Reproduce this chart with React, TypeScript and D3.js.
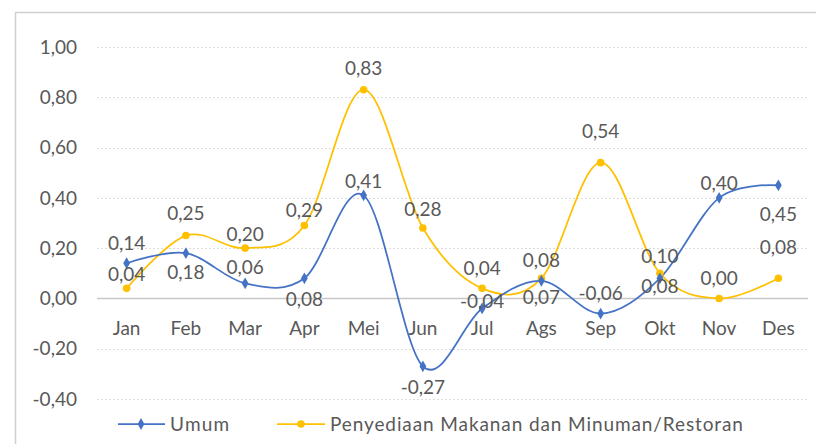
import React from 'react';
import * as d3 from 'd3';

const months = ['Jan', 'Feb', 'Mar', 'Apr', 'Mei', 'Jun', 'Jul', 'Ags', 'Sep', 'Okt', 'Nov', 'Des'];
const umum = [0.14, 0.18, 0.06, 0.08, 0.41, -0.27, -0.04, 0.07, -0.06, 0.08, 0.40, 0.45];
const restoran = [0.04, 0.25, 0.20, 0.29, 0.83, 0.28, 0.04, 0.08, 0.54, 0.10, 0.00, 0.08];
const yTicks = [-0.4, -0.2, 0, 0.2, 0.4, 0.6, 0.8, 1.0];
const seriesNames = ['Umum', 'Penyediaan Makanan dan Minuman/Restoran'];

// label offsets (vertical, from the marker) as Excel placed them
const umumLabelDy = [-20, 19, -16, 21, -14, 21, -7, 17, -20, 8, -15, 29];
const restoranLabelDy = [-14, -22, -14, -15, -21, -19, -20, -18, -31, -17, -20, -31];

const W = 816;
const H = 444;
const BLUE = '#4472C4';
const GOLD = '#FFC000';
const TEXT = '#595959';
const FONT = 'Lato, sans-serif';

const locale = d3.formatLocale({ decimal: ',', thousands: '.', grouping: [3], currency: ['', ''] });
const fmt = locale.format('.2f');

export default function App() {
  const x = d3.scaleBand<string>().domain(months).range([97, 808]);
  const y = d3.scaleLinear().domain([-0.4, 1.0]).range([399, 47]);
  const cx = (m: string) => (x(m) as number) + x.bandwidth() / 2;

  const line = d3.line<number>()
    .x((d, i) => cx(months[i]))
    .y(d => y(d))
    .curve(d3.curveCardinal.tension(0));

  const diamond = d3.symbol().type(d3.symbolDiamond).size(40)();

  const fmtLabel = (v: number) => fmt(v).replace('−', '-');

  return (
    <svg width={W} height={H} style={{ position: 'absolute', left: 0, top: 0 }} fontFamily={FONT}>
      <rect x={0} y={0} width={W} height={H} fill="#fff" />
      <path d={`M15.5,${H} V12.5 H${W}`} fill="none" stroke="#d0d0d0" strokeWidth={1.5} />

      {yTicks.map(t => (
        <g key={t}>
          <line
            x1={97} x2={808} y1={Math.round(y(t)) + 0.5} y2={Math.round(y(t)) + 0.5}
            stroke={t === 0 ? '#c8c8c8' : '#dcdcdc'}
            strokeWidth={t === 0 ? 1.5 : 1}
            strokeDasharray={t === 0 ? undefined : '2,2'}
          />
          <text x={77} y={y(t)} dy="0.35em" textAnchor="end" fontSize={19} fill={TEXT}>
            {fmtLabel(t)}
          </text>
        </g>
      ))}

      {months.map(m => (
        <text key={m} x={cx(m)} y={328} dy="0.35em" textAnchor="middle" fontSize={19} fill={TEXT}>
          {m}
        </text>
      ))}

      <path d={line(restoran) as string} fill="none" stroke={GOLD} strokeWidth={1.75} />
      <path d={line(umum) as string} fill="none" stroke={BLUE} strokeWidth={1.75} />

      {restoran.map((v, i) => (
        <circle key={'r' + i} cx={cx(months[i])} cy={y(v)} r={3.8} fill={GOLD} />
      ))}
      {umum.map((v, i) => (
        <path key={'u' + i} d={diamond as string} transform={`translate(${cx(months[i])},${y(v)})`} fill={BLUE} />
      ))}

      {umum.map((v, i) => (
        <text key={'ul' + i} x={cx(months[i])} y={y(v) + umumLabelDy[i]} dy="0.35em"
          textAnchor="middle" fontSize={19} fill={TEXT}>
          {fmtLabel(v)}
        </text>
      ))}
      {restoran.map((v, i) => (
        <text key={'rl' + i} x={cx(months[i])} y={y(v) + restoranLabelDy[i]} dy="0.35em"
          textAnchor="middle" fontSize={19} fill={TEXT}>
          {fmtLabel(v)}
        </text>
      ))}

      <g transform="translate(0,424)">
        <line x1={118} x2={165} y1={0} y2={0} stroke={BLUE} strokeWidth={1.75} />
        <path d={diamond as string} transform="translate(141,0)" fill={BLUE} />
        <text x={170} y={0} dy="0.35em" fontSize={19} letterSpacing={1.2} fill={TEXT}>{seriesNames[0]}</text>
        <line x1={277} x2={325} y1={0} y2={0} stroke={GOLD} strokeWidth={1.75} />
        <circle cx={301} cy={0} r={3.8} fill={GOLD} />
        <text x={330} y={0} dy="0.35em" fontSize={19} letterSpacing={0.9} fill={TEXT}>{seriesNames[1]}</text>
      </g>
    </svg>
  );
}
